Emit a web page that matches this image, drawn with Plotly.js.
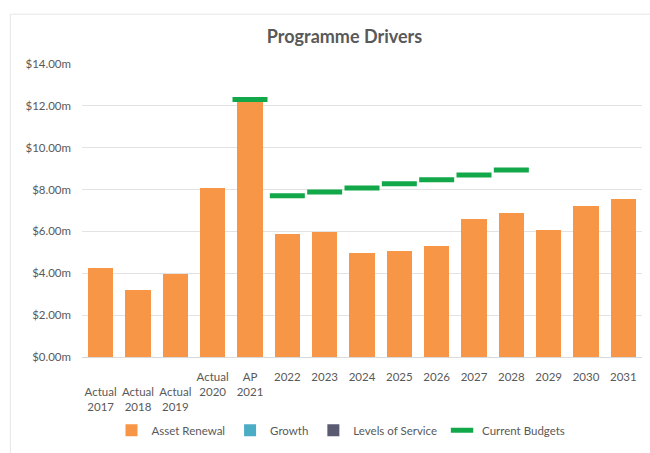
<!DOCTYPE html>
<html>
<head>
<meta charset="utf-8">
<script src="https://cdn.plot.ly/plotly-3.0.1.min.js"></script>
<style>html,body{margin:0;padding:0;background:#fff;}#chart{width:650px;height:453px;}</style>
</head>
<body>
<div id="chart"></div>
<script>
const categories = ["Actual 2017","Actual 2018","Actual 2019","Actual 2020","AP 2021","2022","2023","2024","2025","2026","2027","2028","2029","2030","2031"];
const tickLabels = ["<br>Actual<br>2017","<br>Actual<br>2018","<br>Actual<br>2019","Actual<br>2020","AP<br>2021","2022","2023","2024","2025","2026","2027","2028","2029","2030","2031"];
const assetRenewal = [4.23, 3.21, 3.95, 8.07, 12.2, 5.88, 5.96, 4.97, 5.07, 5.29, 6.59, 6.87, 6.09, 7.21, 7.53];
const growth = [0,0,0,0,0,0,0,0,0,0,0,0,0,0,0];
const levelsOfService = [0,0,0,0,0,0,0,0,0,0,0,0,0,0,0];
const currentBudgets = [null, null, null, null, 12.3, 7.7, 7.88, 8.08, 8.28, 8.47, 8.7, 8.94, null, null, null];
const yTickVals = [0,2,4,6,8,10,12,14];
const yTickText = ["$0.00m","$2.00m","$4.00m","$6.00m","$8.00m","$10.00m","$12.00m","$14.00m"];

const FONT = "Lato, 'Open Sans', sans-serif";
const traces = [
  {type:'bar', name:'Asset Renewal', x:categories, y:assetRenewal, marker:{color:'#F79646'}},
  {type:'bar', name:'Growth', x:categories, y:growth, marker:{color:'#4BACC6'}},
  {type:'bar', name:'Levels of Service', x:categories, y:levelsOfService, marker:{color:'#5A5A72'}},
  {type:'scatter', mode:'markers', name:'Current Budgets', x:categories, y:currentBudgets,
   marker:{symbol:'line-ew', size:25, color:'#12A84A', line:{color:'#12A84A', width:5}}}
];
const layout = {
  width:650, height:453,
  margin:{l:82, r:8, t:64, b:91},
  paper_bgcolor:'#fff', plot_bgcolor:'#fff',
  barmode:'stack', bargap:0.33,
  font:{family:FONT, color:'#595959', size:11},
  title:{text:'<b>Programme Drivers</b>', x:0.53, xanchor:'center', y:0.918, yanchor:'middle',
         font:{family:FONT, size:18, color:'#595959'}},
  xaxis:{type:'category', range:[-0.5,14.5], tickmode:'array', tickvals:categories, ticktext:tickLabels,
         showgrid:false, showline:true, linecolor:'#d9d9d9', linewidth:1, ticks:'',
         tickfont:{family:FONT, size:11.5, color:'#595959'}, ticklabelstandoff:9, fixedrange:true},
  yaxis:{range:[0,14], tickmode:'array', tickvals:yTickVals, ticktext:yTickText,
         showgrid:true, gridcolor:'#e3e3e3', zeroline:false, showline:false, ticks:'',
         tickfont:{family:FONT, size:11.5, color:'#595959'}, ticklabelstandoff:10},
  showlegend:true,
  legend:{orientation:'h', x:0.4625, xanchor:'center', y:-0.25, yanchor:'middle',
          font:{family:FONT, size:11.5, color:'#595959'}, traceorder:'normal', itemwidth:30},
  shapes:[{type:'rect', xref:'paper', yref:'paper', x0:-0.128, x1:1.03, y0:-0.33, y1:1.17,
           line:{color:'#e6e6e6', width:1}}]
};
Plotly.newPlot('chart', traces, layout, {displayModeBar:false, staticPlot:true});
</script>
</body>
</html>
